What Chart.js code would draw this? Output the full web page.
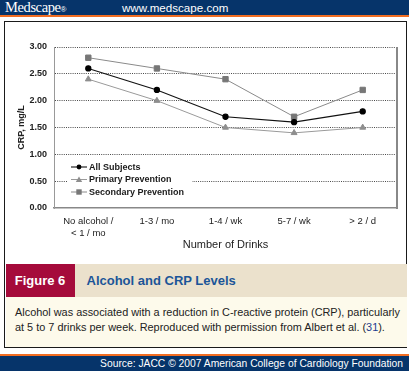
<!DOCTYPE html>
<html lang="en">
<head>
  <meta charset="UTF-8">
  <title>Alcohol and CRP Levels</title>
  <style>
    body { margin: 0; width: 409px; height: 371px; background: #fff; position: relative; overflow: hidden;
      font-family: "Liberation Sans", Arial, sans-serif; }
    .topo { position: absolute; left: 0; top: 0; width: 409px; height: 15px; background: #06346a; }
    .topo-linha { position: absolute; left: 0; top: 15px; width: 409px; height: 2px; background: #f26d21; }
    .logo { position: absolute; left: 5px; top: 0px; font-family: "Liberation Serif", "DejaVu Serif", serif;
      font-size: 14.5px; color: #fff; line-height: 15px; letter-spacing: -0.4px; }
    .logo small { font-size: 8px; font-family: "Liberation Sans", Arial, sans-serif; letter-spacing: 0; }
    .site { position: absolute; left: 122px; top: 0px; font-size: 11.6px; color: #fff; line-height: 15px; }
    .caixa { position: absolute; left: 4px; top: 21px; width: 401px; height: 325px; border: 1.5px solid #1a1a1a; background: #fff; }
    canvas { position: absolute; left: 0; top: 0; }
    .faixa { position: absolute; left: 5.5px; top: 264px; width: 401px; height: 33px; background: #ebe1cc; }
    .fig { position: absolute; left: 0; top: 0; width: 69px; height: 33px; background: #a50b3b; color: #fff;
      font-weight: bold; font-size: 13px; line-height: 33px; text-align: center; }
    .tit { position: absolute; left: 81px; top: 0; color: #1b5598; font-weight: bold; font-size: 13px; line-height: 33px; }
    .legenda { position: absolute; left: 5.5px; top: 297px; width: 401px; height: 49.5px; background: #fdfaeb; }
    .legenda p { margin: 0; position: absolute; left: 9.5px; top: 8px; width: 395px; white-space: nowrap;
      font-size: 10.9px; line-height: 15px; color: #222; }
    .legenda span { color: #1b3d90; }
    .rodape-linha { position: absolute; left: 0; top: 354px; width: 409px; height: 2px; background: #f26d21; }
    .rodape { position: absolute; left: 0; top: 356px; width: 409px; height: 15px; background: #06346a; }
    .rodape div { position: absolute; right: 6px; top: 0; color: #fff; font-size: 10.3px; line-height: 15px; }
  </style>
</head>
<body>
  <div class="topo"></div>
  <div class="topo-linha"></div>
  <div class="logo">Medscape<small>®</small></div>
  <div class="site">www.medscape.com</div>
  <div class="caixa"></div>
  <canvas id="grafico_crp" width="409" height="262"></canvas>
  <div class="faixa">
    <div class="fig">Figure 6</div>
    <div class="tit">Alcohol and CRP Levels</div>
  </div>
  <div class="legenda">
    <p>Alcohol was associated with a reduction in C-reactive protein (CRP), particularly<br>at 5 to 7 drinks per week. Reproduced with permission from Albert et al. (<span>31</span>).</p>
  </div>
  <div class="rodape-linha"></div>
  <div class="rodape"><div>Source: JACC © 2007 American College of Cardiology Foundation</div></div>

  <script src="https://cdn.jsdelivr.net/npm/chart.js"></script>
  <script>
    const categorias = [["No alcohol /", "< 1 / mo"], "1-3 / mo", "1-4 / wk", "5-7 / wk", "> 2 / d"];
    const todos = [2.6, 2.2, 1.7, 1.6, 1.8];
    const primaria = [2.4, 2.0, 1.5, 1.4, 1.5];
    const secundaria = [2.8, 2.6, 2.4, 1.7, 2.2];
    const ticksY = [0, 0.5, 1.0, 1.5, 2.0, 2.5, 3.0];

    const fonte = '"Liberation Sans", Arial, sans-serif';
    Chart.defaults.font.family = fonte;

    // legenda desenhada dentro da area do grafico, com fundo branco
    const legendaInterna = {
      id: 'legendaInterna',
      afterDraw(chart) {
        const { ctx, chartArea } = chart;
        const x0 = chartArea.left;
        const yb = chartArea.bottom;
        ctx.save();
        ctx.fillStyle = '#fff';
        ctx.fillRect(x0 + 14, yb - 48, 124, 39);

        chart.data.datasets.forEach((ds, i) => {
          const y = yb - 41 + i * 12.5;
          ctx.strokeStyle = ds.borderColor;
          ctx.lineWidth = ds.borderWidth;
          ctx.beginPath();
          ctx.moveTo(x0 + 17, y);
          ctx.lineTo(x0 + 33, y);
          ctx.stroke();

          const cx = x0 + 25;
          ctx.fillStyle = ds.pointBackgroundColor;
          ctx.beginPath();
          if (ds.pointStyle === 'circle') {
            ctx.arc(cx, y, 2.4, 0, Math.PI * 2);
          } else if (ds.pointStyle === 'triangle') {
            ctx.moveTo(cx, y - 3);
            ctx.lineTo(cx + 3.2, y + 2.4);
            ctx.lineTo(cx - 3.2, y + 2.4);
            ctx.closePath();
          } else {
            ctx.rect(cx - 2.7, y - 2.7, 5.4, 5.4);
          }
          ctx.fill();

          ctx.fillStyle = '#1a1a1a';
          ctx.font = 'bold 9px ' + fonte;
          ctx.textBaseline = 'middle';
          ctx.textAlign = 'left';
          ctx.fillText(ds.label, x0 + 35, y + 0.5);
        });

        // borda direita da area do grafico
        ctx.strokeStyle = '#888';
        ctx.lineWidth = 2;
        ctx.beginPath();
        ctx.moveTo(chartArea.right, chartArea.top);
        ctx.lineTo(chartArea.right, chartArea.bottom + 1);
        ctx.stroke();
        ctx.restore();
      }
    };

    new Chart(document.getElementById('grafico_crp'), {
      type: 'line',
      data: {
        labels: categorias,
        datasets: [
          {
            label: 'All Subjects',
            data: todos,
            borderColor: '#111',
            backgroundColor: '#000',
            pointBackgroundColor: '#000',
            pointBorderColor: '#000',
            pointStyle: 'circle',
            pointRadius: 2.6,
            borderWidth: 1.1,
            tension: 0
          },
          {
            label: 'Primary Prevention',
            data: primaria,
            borderColor: '#9a9a9a',
            backgroundColor: '#8e8e8e',
            pointBackgroundColor: '#8e8e8e',
            pointBorderColor: '#8e8e8e',
            pointStyle: 'triangle',
            pointRadius: 3.4,
            borderWidth: 1,
            tension: 0
          },
          {
            label: 'Secondary Prevention',
            data: secundaria,
            borderColor: '#8a8a8a',
            backgroundColor: '#777',
            pointBackgroundColor: '#777',
            pointBorderColor: '#777',
            pointStyle: 'rect',
            pointRadius: 3.8,
            borderWidth: 1,
            tension: 0
          }
        ]
      },
      options: {
        responsive: false,
        animation: false,
        devicePixelRatio: 1,
        layout: { padding: { top: 47, right: 12, left: 0, bottom: 0 } },
        plugins: {
          legend: { display: false },
          tooltip: { enabled: false }
        },
        scales: {
          x: {
            offset: true,
            grid: { display: false, drawTicks: false },
            border: { display: true, color: '#888', width: 1.5 },
            ticks: {
              color: '#222',
              font: { size: 9.5 },
              padding: 8,
              maxRotation: 0,
              autoSkip: false
            },
            title: {
              display: true,
              text: 'Number of Drinks',
              color: '#222',
              font: { size: 11 },
              padding: { top: 0, bottom: 10 }
            },
            afterFit(scale) { scale.height = 54; }
          },
          y: {
            min: 0,
            max: 3,
            afterBuildTicks(scale) { scale.ticks = ticksY.map(v => ({ value: v })); },
            grid: {
              drawTicks: false,
              color: ctx => (ctx.tick && ctx.tick.value === 0) ? 'rgba(0,0,0,0)' : '#4a4a4a',
              lineWidth: 1
            },
            border: { display: true, color: '#999', width: 1, dash: [1, 1.2] },
            ticks: {
              color: '#222',
              font: { size: 9, weight: 'bold' },
              padding: 7,
              callback: v => Number(v).toFixed(2)
            },
            title: {
              display: true,
              text: 'CRP, mg/L',
              color: '#222',
              font: { size: 9, weight: 'bold' },
              padding: { top: 16, bottom: 0 }
            },
            afterFit(scale) { scale.width = 54; }
          }
        }
      },
      plugins: [legendaInterna]
    });
  </script>
</body>
</html>
